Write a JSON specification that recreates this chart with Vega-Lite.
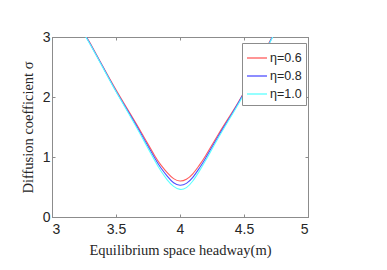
{
  "$schema": "https://vega.github.io/schema/vega-lite/v6.json",
  "autosize": "none",
  "width": 256,
  "height": 180,
  "padding": {"left": 52, "top": 37, "right": 79, "bottom": 53},
  "background": "white",
  "config": {
    "view": {"stroke": "#8c8c8c", "strokeWidth": 1},
    "axis": {"grid": false, "domainColor": "#8c8c8c", "tickColor": "#8c8c8c", "tickSize": -3, "labelFont": "Liberation Sans", "labelFontSize": 14, "labelColor": "#262626", "titleFont": "Liberation Serif", "titleFontSize": 14.5, "titleFontWeight": "normal", "titleColor": "#262626"}
  },
  "data": {"values": [
    {"x": 3.20, "y": 3.28, "s": "η=0.6"}, {"x": 3.27, "y": 3.00, "s": "η=0.6"}, {"x": 3.30, "y": 2.89, "s": "η=0.6"}, {"x": 3.40, "y": 2.50, "s": "η=0.6"}, {"x": 3.50, "y": 2.12, "s": "η=0.6"}, {"x": 3.60, "y": 1.76, "s": "η=0.6"}, {"x": 3.70, "y": 1.40, "s": "η=0.6"}, {"x": 3.80, "y": 1.03, "s": "η=0.6"}, {"x": 3.85, "y": 0.87, "s": "η=0.6"}, {"x": 3.90, "y": 0.74, "s": "η=0.6"}, {"x": 3.95, "y": 0.64, "s": "η=0.6"}, {"x": 4.00, "y": 0.60, "s": "η=0.6"}, {"x": 4.05, "y": 0.63, "s": "η=0.6"}, {"x": 4.10, "y": 0.72, "s": "η=0.6"}, {"x": 4.15, "y": 0.86, "s": "η=0.6"}, {"x": 4.20, "y": 1.02, "s": "η=0.6"}, {"x": 4.30, "y": 1.38, "s": "η=0.6"}, {"x": 4.40, "y": 1.72, "s": "η=0.6"}, {"x": 4.50, "y": 2.08, "s": "η=0.6"}, {"x": 4.60, "y": 2.50, "s": "η=0.6"}, {"x": 4.70, "y": 2.92, "s": "η=0.6"}, {"x": 4.75, "y": 3.13, "s": "η=0.6"},
    {"x": 3.20, "y": 3.27, "s": "η=0.8"}, {"x": 3.27, "y": 2.99, "s": "η=0.8"}, {"x": 3.30, "y": 2.88, "s": "η=0.8"}, {"x": 3.40, "y": 2.49, "s": "η=0.8"}, {"x": 3.50, "y": 2.10, "s": "η=0.8"}, {"x": 3.60, "y": 1.74, "s": "η=0.8"}, {"x": 3.70, "y": 1.37, "s": "η=0.8"}, {"x": 3.80, "y": 0.99, "s": "η=0.8"}, {"x": 3.85, "y": 0.82, "s": "η=0.8"}, {"x": 3.90, "y": 0.68, "s": "η=0.8"}, {"x": 3.95, "y": 0.57, "s": "η=0.8"}, {"x": 4.00, "y": 0.53, "s": "η=0.8"}, {"x": 4.05, "y": 0.56, "s": "η=0.8"}, {"x": 4.10, "y": 0.66, "s": "η=0.8"}, {"x": 4.15, "y": 0.81, "s": "η=0.8"}, {"x": 4.20, "y": 0.98, "s": "η=0.8"}, {"x": 4.30, "y": 1.35, "s": "η=0.8"}, {"x": 4.40, "y": 1.70, "s": "η=0.8"}, {"x": 4.50, "y": 2.07, "s": "η=0.8"}, {"x": 4.60, "y": 2.49, "s": "η=0.8"}, {"x": 4.70, "y": 2.91, "s": "η=0.8"}, {"x": 4.75, "y": 3.12, "s": "η=0.8"},
    {"x": 3.20, "y": 3.26, "s": "η=1.0"}, {"x": 3.27, "y": 2.98, "s": "η=1.0"}, {"x": 3.30, "y": 2.87, "s": "η=1.0"}, {"x": 3.40, "y": 2.48, "s": "η=1.0"}, {"x": 3.50, "y": 2.09, "s": "η=1.0"}, {"x": 3.60, "y": 1.72, "s": "η=1.0"}, {"x": 3.70, "y": 1.34, "s": "η=1.0"}, {"x": 3.80, "y": 0.95, "s": "η=1.0"}, {"x": 3.85, "y": 0.77, "s": "η=1.0"}, {"x": 3.90, "y": 0.62, "s": "η=1.0"}, {"x": 3.95, "y": 0.51, "s": "η=1.0"}, {"x": 4.00, "y": 0.46, "s": "η=1.0"}, {"x": 4.05, "y": 0.49, "s": "η=1.0"}, {"x": 4.10, "y": 0.60, "s": "η=1.0"}, {"x": 4.15, "y": 0.76, "s": "η=1.0"}, {"x": 4.20, "y": 0.94, "s": "η=1.0"}, {"x": 4.30, "y": 1.32, "s": "η=1.0"}, {"x": 4.40, "y": 1.68, "s": "η=1.0"}, {"x": 4.50, "y": 2.05, "s": "η=1.0"}, {"x": 4.60, "y": 2.48, "s": "η=1.0"}, {"x": 4.70, "y": 2.90, "s": "η=1.0"}, {"x": 4.75, "y": 3.11, "s": "η=1.0"}
  ]},
  "layer": [
    {
      "mark": {"type": "line", "clip": true, "strokeOpacity": 0},
      "encoding": {
        "x": {"field": "x", "type": "quantitative", "scale": {"domain": [3, 5], "nice": false}, "axis": {"orient": "top", "values": [3, 3.5, 4, 4.5, 5], "labels": false, "title": null}},
        "y": {"field": "y", "type": "quantitative", "scale": {"domain": [0, 3], "nice": false}, "axis": {"orient": "right", "values": [0, 1, 2, 3], "labels": false, "title": null}},
        "detail": {"field": "s", "type": "nominal"}
      }
    },
    {
      "mark": {"type": "line", "clip": true, "strokeWidth": 1.1, "interpolate": "natural"},
      "encoding": {
        "x": {"field": "x", "type": "quantitative", "scale": {"domain": [3, 5], "nice": false}, "axis": {"orient": "bottom", "values": [3, 3.5, 4, 4.5, 5], "format": "~g", "title": "Equilibrium space headway(m)", "labelPadding": 8, "titlePadding": 7}},
        "y": {"field": "y", "type": "quantitative", "scale": {"domain": [0, 3], "nice": false}, "axis": {"orient": "left", "values": [0, 1, 2, 3], "format": "~g", "title": "Diffusion coefficient σ", "labelPadding": 5, "titlePadding": 7}},
        "color": {"field": "s", "type": "nominal", "scale": {"domain": ["η=0.6", "η=0.8", "η=1.0"], "range": ["#ff5c5c", "#5050ff", "#5cffff"]},
          "legend": {"title": null, "orient": "none", "legendX": 190, "legendY": 6, "symbolType": "stroke", "symbolSize": 400, "symbolStrokeWidth": 1.3, "labelFont": "Liberation Sans", "labelFontSize": 12.5, "labelColor": "#262626", "strokeColor": "#8c8c8c", "fillColor": "white", "padding": 4, "rowPadding": 0, "labelOffset": 2}}
      }
    }
  ],
  "resolve": {"axis": {"x": "independent", "y": "independent"}}
}
